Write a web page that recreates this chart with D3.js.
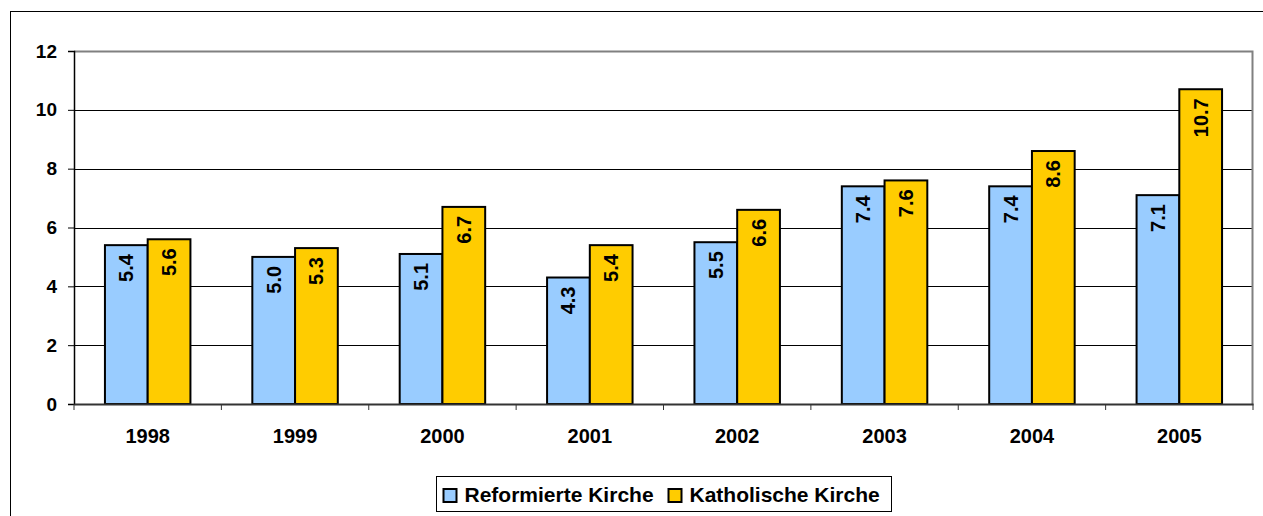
<!DOCTYPE html>
<html>
<head>
<meta charset="utf-8">
<script src="https://cdn.jsdelivr.net/npm/d3@7"></script>
<style>
  body { margin: 0; background: #fff; }
  text { font-family: "Liberation Sans", Arial, sans-serif; font-weight: bold; }
</style>
</head>
<body>
<svg id="chart" width="1263" height="516"></svg>
<script>
// data
var years = ["1998", "1999", "2000", "2001", "2002", "2003", "2004", "2005"];
var reformiert = [5.4, 5.0, 5.1, 4.3, 5.5, 7.4, 7.4, 7.1];
var katholisch = [5.6, 5.3, 6.7, 5.4, 6.6, 7.6, 8.6, 10.7];
var seriesNames = ["Reformierte Kirche", "Katholische Kirche"];
var yTicks = [0, 2, 4, 6, 8, 10, 12];

var colors = ["#99ccff", "#ffcc00"];
var series = [reformiert, katholisch];

var svg = d3.select("#chart");
var margin = {top: 51, right: 10, bottom: 112, left: 74};
var width = 1263 - margin.left - margin.right;
var height = 516 - margin.top - margin.bottom;

// outer frame (runs off the right and bottom edges)
svg.append("rect")
  .attr("x", 10.5).attr("y", 11.5)
  .attr("width", 1300).attr("height", 600)
  .attr("fill", "#fff").attr("stroke", "#000").attr("stroke-width", 1);

var g = svg.append("g")
  .attr("transform", "translate(" + margin.left + "," + margin.top + ")");

var x = d3.scaleBand().domain(years).range([0, width]).paddingInner(0).paddingOuter(0);
var y = d3.scaleLinear().domain([0, 12]).range([height, 0]);

// grid lines
g.append("g").selectAll("line")
  .data(yTicks.filter(function(d){ return d > 0 && d < 12; }))
  .enter().append("line")
    .attr("x1", 0).attr("x2", width)
    .attr("y1", function(d){ return Math.round(y(d)) + 0.5; })
    .attr("y2", function(d){ return Math.round(y(d)) + 0.5; })
    .attr("stroke", "#000").attr("stroke-width", 1);

// plot area top/right border
g.append("path")
  .attr("d", "M0," + (Math.round(y(12)) + 0.5) + "H" + (width - 0.5) + "V" + height)
  .attr("fill", "none").attr("stroke", "#808080").attr("stroke-width", 2);

// bars
var bw = x.bandwidth() * 0.29;
var groups = g.selectAll(".grp").data(years).enter().append("g")
  .attr("transform", function(d){ return "translate(" + (x(d) + x.bandwidth() / 2) + ",0)"; });

series.forEach(function(s, si) {
  groups.append("rect")
    .attr("x", si === 0 ? -bw : 0)
    .attr("y", function(d, i){ return y(s[i]); })
    .attr("width", bw)
    .attr("height", function(d, i){ return height - y(s[i]); })
    .attr("fill", colors[si])
    .attr("stroke", "#000").attr("stroke-width", 2);

  groups.append("text")
    .attr("transform", function(d, i){
      return "translate(" + ((si === 0 ? -bw / 2 : bw / 2) + 7) + "," + (y(s[i]) + 9) + ") rotate(-90)";
    })
    .attr("text-anchor", "end")
    .style("font-size", "20px")
    .text(function(d, i){ return s[i].toFixed(1); });
});

// axes
var yAxis = d3.axisLeft(y).tickValues(yTicks).tickSize(6).tickPadding(11).tickFormat(d3.format("d"));
var ya = g.append("g").call(yAxis);
ya.select(".domain").attr("stroke", "#000").attr("stroke-width", 1.5);
ya.selectAll("text").style("font-size", "19px").attr("fill", "#000");

var xAxis = d3.axisBottom(x).tickSize(0).tickPadding(25);
var xa = g.append("g").attr("transform", "translate(0," + height + ")").call(xAxis);
xa.select(".domain").attr("stroke", "#333").attr("stroke-width", 2);
xa.selectAll("text").style("font-size", "20px").attr("fill", "#000");
xa.selectAll(".sep").data(years.concat(["end"])).enter().append("line")
  .attr("x1", function(d, i){ return i * x.bandwidth(); })
  .attr("x2", function(d, i){ return i * x.bandwidth(); })
  .attr("y1", 0).attr("y2", 6)
  .attr("stroke", "#333").attr("stroke-width", 1);

// legend
var lg = svg.append("g").attr("transform", "translate(436.5,476.5)");
lg.append("rect").attr("width", 455).attr("height", 35)
  .attr("fill", "#fff").attr("stroke", "#000").attr("stroke-width", 1);
var itemX = [7, 232];
seriesNames.forEach(function(name, i) {
  var it = lg.append("g").attr("transform", "translate(" + itemX[i] + ",12.5)");
  it.append("rect").attr("width", 13).attr("height", 13)
    .attr("fill", colors[i]).attr("stroke", "#000").attr("stroke-width", 2);
  it.append("text").attr("x", 21).attr("y", 13)
    .style("font-size", "21px").text(name);
});
</script>
</body>
</html>
